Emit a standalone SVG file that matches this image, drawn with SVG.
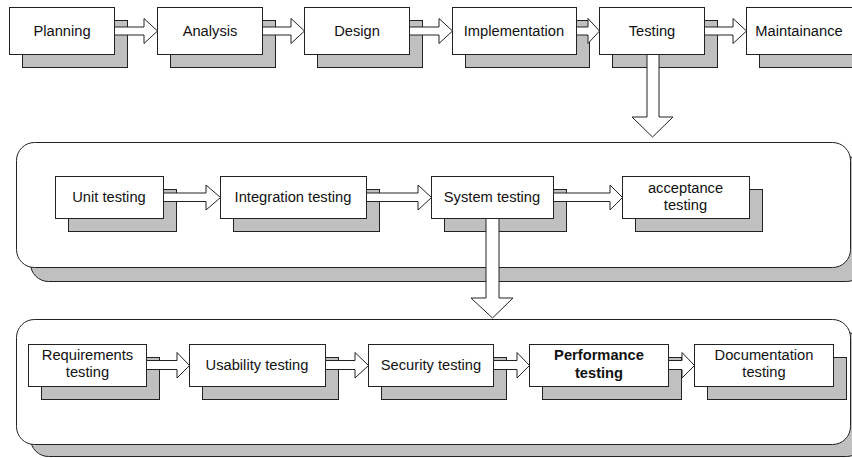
<svg xmlns="http://www.w3.org/2000/svg" width="852" height="458" viewBox="0 0 852 458">
  <style>
    .bg { fill: #ffffff; }
    .panel { fill: #ffffff; stroke: #222222; stroke-width: 1; }
    .panel-shadow { fill: #c0c0c0; stroke: #222222; stroke-width: 1; }
    .box { fill: #ffffff; stroke: #222222; stroke-width: 1; }
    .shadow { fill: #c0c0c0; stroke: #222222; stroke-width: 1; }
    .arrow { fill: #ffffff; stroke: #222222; stroke-width: 1; stroke-linejoin: miter; }
    .label { font-family: "Liberation Sans", Arial, sans-serif; font-size: 14.7px; fill: #111111; text-anchor: middle; }
    .bold { font-weight: bold; }
  </style>

  <rect class="bg" x="0" y="0" width="852" height="458"/>

  <!-- container panels -->
  <g id="panel-testing-levels">
    <rect class="panel-shadow" x="30.5" y="156.5" width="834" height="125" rx="18" ry="18"/>
    <rect class="panel" x="16.5" y="142.5" width="834" height="125" rx="18" ry="18"/>
  </g>
  <g id="panel-system-tests">
    <rect class="panel-shadow" x="30.5" y="332.5" width="834" height="124" rx="18" ry="18"/>
    <rect class="panel" x="16.5" y="319.5" width="834" height="125" rx="18" ry="18"/>
  </g>

  <!-- top row: lifecycle phases -->
  <g id="planning">
    <rect class="shadow" x="22.5" y="20.5" width="105" height="47"/>
    <rect class="box" x="9.5" y="7.5" width="105" height="47"/>
    <text class="label" x="62" y="36">Planning</text>
  </g>
  <g id="analysis">
    <rect class="shadow" x="170.5" y="20.5" width="105" height="47"/>
    <rect class="box" x="157.5" y="7.5" width="105" height="47"/>
    <text class="label" x="210" y="36">Analysis</text>
  </g>
  <g id="design">
    <rect class="shadow" x="317.5" y="20.5" width="105" height="47"/>
    <rect class="box" x="304.5" y="7.5" width="105" height="47"/>
    <text class="label" x="357" y="36">Design</text>
  </g>
  <g id="implementation">
    <rect class="shadow" x="465.5" y="20.5" width="124" height="47"/>
    <rect class="box" x="452.5" y="7.5" width="124" height="47"/>
    <text class="label" x="514" y="36">Implementation</text>
  </g>
  <g id="testing">
    <rect class="shadow" x="612.5" y="20.5" width="105" height="47"/>
    <rect class="box" x="599.5" y="7.5" width="105" height="47"/>
    <text class="label" x="652" y="36">Testing</text>
  </g>
  <g id="maintainance">
    <rect class="shadow" x="759.5" y="20.5" width="110" height="47"/>
    <rect class="box" x="746.5" y="7.5" width="110" height="47"/>
    <text class="label" x="799" y="36">Maintainance</text>
  </g>

  <!-- middle row: testing levels -->
  <g id="unit-testing">
    <rect class="shadow" x="68.5" y="189.5" width="108" height="42"/>
    <rect class="box" x="55.5" y="176.5" width="108" height="42"/>
    <text class="label" x="109" y="202">Unit testing</text>
  </g>
  <g id="integration-testing">
    <rect class="shadow" x="233.5" y="189.5" width="146" height="42"/>
    <rect class="box" x="220.5" y="176.5" width="146" height="42"/>
    <text class="label" x="293" y="202">Integration testing</text>
  </g>
  <g id="system-testing">
    <rect class="shadow" x="444.5" y="189.5" width="122" height="42"/>
    <rect class="box" x="431.5" y="176.5" width="122" height="42"/>
    <text class="label" x="492" y="202">System testing</text>
  </g>
  <g id="acceptance-testing">
    <rect class="shadow" x="635.5" y="189.5" width="127" height="42"/>
    <rect class="box" x="622.5" y="176.5" width="127" height="42"/>
    <text class="label" x="685.5" y="192.5">acceptance</text>
    <text class="label" x="685.5" y="210">testing</text>
  </g>

  <!-- bottom row: system test types -->
  <g id="requirements-testing">
    <rect class="shadow" x="41.5" y="357.5" width="118" height="42"/>
    <rect class="box" x="28.5" y="344.5" width="118" height="42"/>
    <text class="label" x="87.5" y="360">Requirements</text>
    <text class="label" x="87.5" y="377">testing</text>
  </g>
  <g id="usability-testing">
    <rect class="shadow" x="202.5" y="357.5" width="136" height="42"/>
    <rect class="box" x="189.5" y="344.5" width="136" height="42"/>
    <text class="label" x="257" y="370">Usability testing</text>
  </g>
  <g id="security-testing">
    <rect class="shadow" x="381.5" y="357.5" width="125" height="42"/>
    <rect class="box" x="368.5" y="344.5" width="125" height="42"/>
    <text class="label" x="431" y="370">Security testing</text>
  </g>
  <g id="performance-testing">
    <rect class="shadow" x="542.5" y="357.5" width="139" height="42"/>
    <rect class="box" x="529.5" y="344.5" width="139" height="42"/>
    <text class="label bold" x="599" y="360">Performance</text>
    <text class="label bold" x="599" y="378">testing</text>
  </g>
  <g id="documentation-testing">
    <rect class="shadow" x="707.5" y="357.5" width="139" height="42"/>
    <rect class="box" x="694.5" y="344.5" width="139" height="42"/>
    <text class="label" x="764" y="360">Documentation</text>
    <text class="label" x="764" y="377">testing</text>
  </g>

  <!-- block arrows between stages -->
  <g id="connectors">
    <path class="arrow" d="M114.5,27 H144 V18.5 L157.5,31 L144,43.5 V35 H114.5 Z"/>
    <path class="arrow" d="M262.5,27 H291 V18.5 L304.5,31 L291,43.5 V35 H262.5 Z"/>
    <path class="arrow" d="M409.5,27 H439 V18.5 L452.5,31 L439,43.5 V35 H409.5 Z"/>
    <path class="arrow" d="M576.5,27 H588 V18.5 L599.5,31 L588,43.5 V35 H576.5 Z"/>
    <path class="arrow" d="M704.5,27 H733 V18.5 L746.5,31 L733,43.5 V35 H704.5 Z"/>

    <path class="arrow" d="M647,54.5 V117 H632 L652.5,137 L673,117 H659 V54.5 Z"/>

    <path class="arrow" d="M163.5,193 H206 V185 L220.5,197.5 L206,210 V201.5 H163.5 Z"/>
    <path class="arrow" d="M366.5,193 H418 V185 L431.5,197.5 L418,210 V201.5 H366.5 Z"/>
    <path class="arrow" d="M553.5,193 H610 V185 L622.5,197.5 L610,210 V201.5 H553.5 Z"/>

    <path class="arrow" d="M486,218.5 V298 H471 L492.5,318 L513,298 H499 V218.5 Z"/>

    <path class="arrow" d="M146.5,360.5 H177 V352.5 L189.5,365.5 L177,378 V369.5 H146.5 Z"/>
    <path class="arrow" d="M325.5,360.5 H355 V352.5 L368.5,365.5 L355,378 V369.5 H325.5 Z"/>
    <path class="arrow" d="M493.5,360.5 H517 V352.5 L529.5,365.5 L517,378 V369.5 H493.5 Z"/>
    <path class="arrow" d="M668.5,360.5 H682 V352.5 L694.5,365.5 L682,378 V369.5 H668.5 Z"/>
  </g>
</svg>
